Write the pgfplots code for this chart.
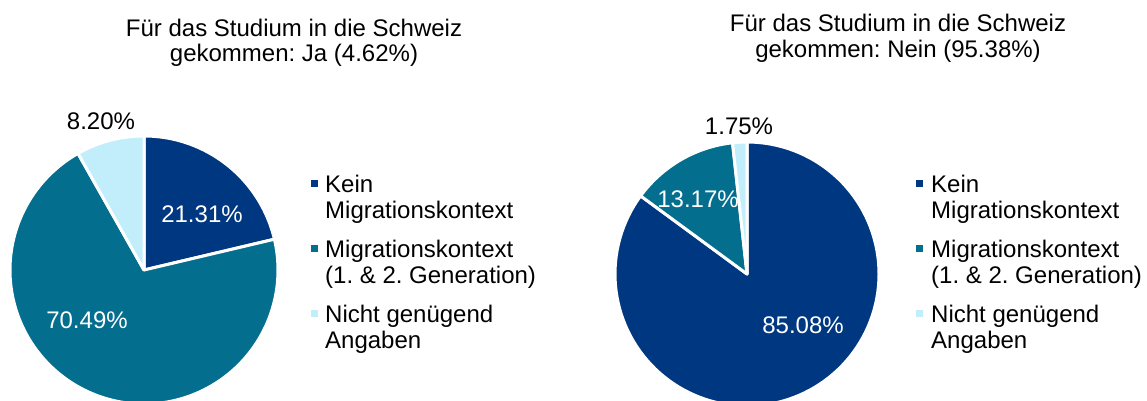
\documentclass[border=0pt]{standalone}
\usepackage{fontspec}
\setmainfont{Liberation Sans}
\usepackage{pgfplots}
\pgfplotsset{compat=1.18}

\definecolor{cDark}{HTML}{003781}
\definecolor{cTeal}{HTML}{046E8F}
\definecolor{cLight}{HTML}{C2EEFC}

% pie slice: centre x, centre y, radius, cumulative % before, slice %, colour
\newcommand{\slice}[6]{%
  \addplot[fill=#6, draw=white, line width=3pt, line join=round,
    domain={90-3.6*(#4+#5)}:{90-3.6*(#4)}, samples=120, variable=\t]
    ({#1+#3*cos(\t)}, {#2-#3*sin(\t)}) -- (axis cs:#1,#2) -- cycle;
}
% legend: square x, text x
\newcommand{\legendat}[2]{%
  \fill[cDark]  (axis cs:#1,180) rectangle (axis cs:#1+7,187);
  \fill[cTeal]  (axis cs:#1,245) rectangle (axis cs:#1+7,252);
  \fill[cLight] (axis cs:#1,310) rectangle (axis cs:#1+7,317);
  \node[anchor=base west, inner sep=0pt] at (axis cs:#2,192) {Kein};
  \node[anchor=base west, inner sep=0pt] at (axis cs:#2,218) {Migrationskontext};
  \node[anchor=base west, inner sep=0pt] at (axis cs:#2,257) {Migrationskontext};
  \node[anchor=base west, inner sep=0pt] at (axis cs:#2,283) {(1. \& 2. Generation)};
  \node[anchor=base west, inner sep=0pt] at (axis cs:#2,322) {Nicht genügend};
  \node[anchor=base west, inner sep=0pt] at (axis cs:#2,348) {Angaben};
}

\begin{document}
\frenchspacing
\fontsize{24}{26}\selectfont
\begin{tikzpicture}
\begin{axis}[
  width=1147pt, height=401pt, scale only axis,
  xmin=0, xmax=1147, ymin=0, ymax=401, y dir=reverse,
  hide axis, clip=true,
]
\path (axis cs:0,0) rectangle (axis cs:1147,401);

% left pie: Ja (4.62%)
\slice{144}{270}{134}{0}{21.31}{cDark}
\slice{144}{270}{134}{21.31}{70.49}{cTeal}
\slice{144}{270}{134}{91.80}{8.20}{cLight}

% right pie: Nein (95.38%)
\slice{747}{274}{132}{0}{85.08}{cDark}
\slice{747}{274}{132}{85.08}{13.17}{cTeal}
\slice{747}{274}{132}{98.25}{1.75}{cLight}

% titles
\node[anchor=base] at (axis cs:294,37) {Für das Studium in die Schweiz};
\node[anchor=base] at (axis cs:294,62) {gekommen: Ja (4.62\%)};
\node[anchor=base] at (axis cs:898,32) {Für das Studium in die Schweiz};
\node[anchor=base] at (axis cs:898,58) {gekommen: Nein (95.38\%)};

% slice labels
\node at (axis cs:101,121) {8.20\%};
\node[white] at (axis cs:202,214) {21.31\%};
\node[white] at (axis cs:87,320) {70.49\%};
\node at (axis cs:739,126) {1.75\%};
\node[white] at (axis cs:698,199) {13.17\%};
\node[white] at (axis cs:803,325) {85.08\%};

\legendat{311}{325}
\legendat{916}{931}
\end{axis}
\end{tikzpicture}
\end{document}
